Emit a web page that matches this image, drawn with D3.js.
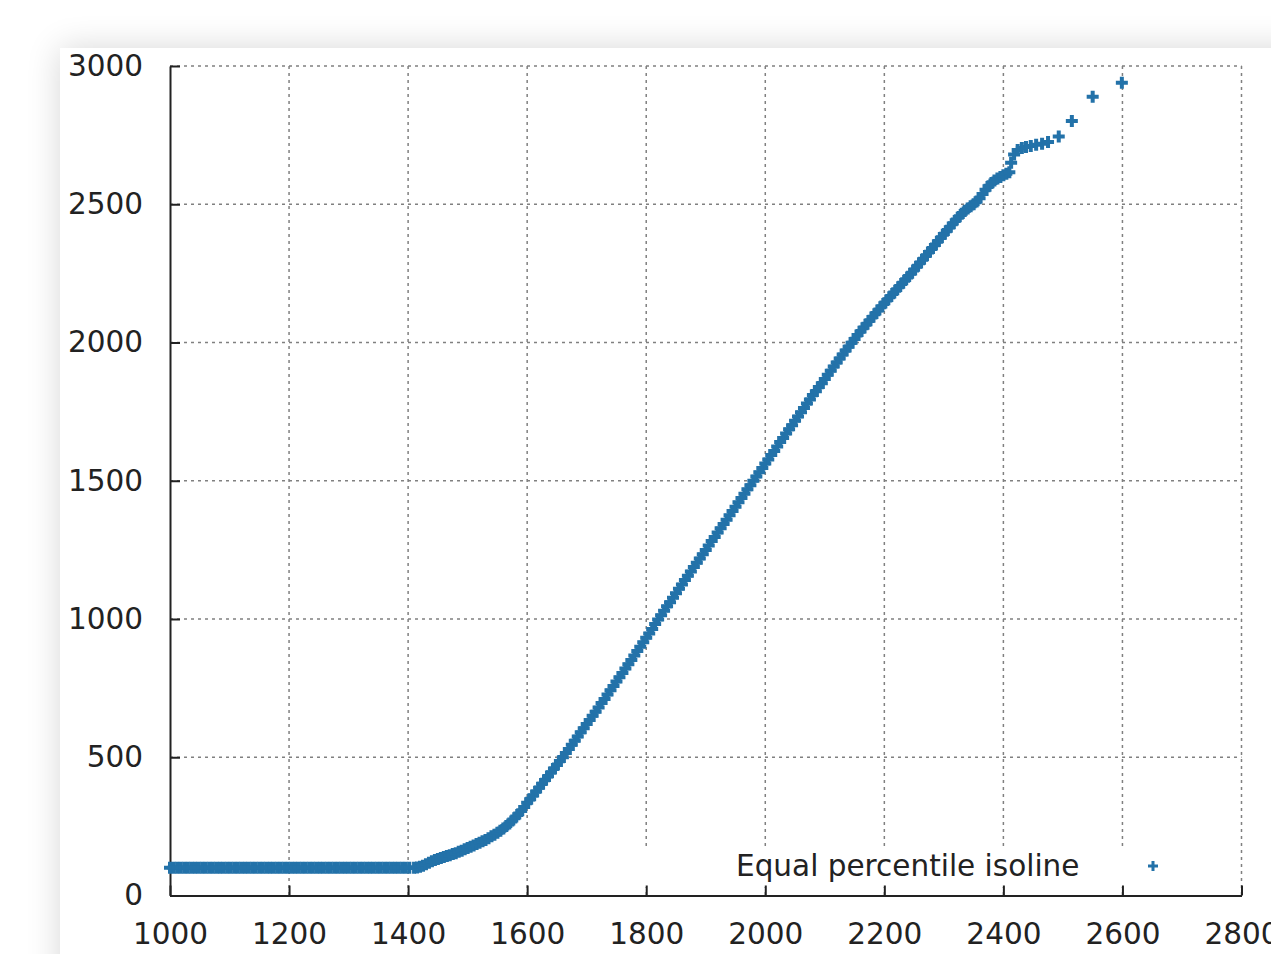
<!DOCTYPE html>
<html>
<head>
<meta charset="utf-8">
<script src="https://cdn.jsdelivr.net/npm/d3@7/dist/d3.min.js"></script>
<style>
  html, body { margin: 0; padding: 0; background: #fff; }
  body { width: 1271px; height: 954px; overflow: hidden; position: relative; }
  #card {
    position: absolute; left: 60px; top: 48px; width: 1300px; height: 1000px;
    background: #fff; box-shadow: 0 0 32px rgba(0, 0, 0, 0.16);
  }
  #chart { position: absolute; left: 0; top: 0; }
</style>
</head>
<body>
<div id="card"></div>
<div id="chart"></div>
<script>
// axis ticks
const xTicks = [1000, 1200, 1400, 1600, 1800, 2000, 2200, 2400, 2600, 2800];
const yTicks = [0, 500, 1000, 1500, 2000, 2500, 3000];
const seriesName = 'Equal percentile isoline';

// equal percentile pairs (x, y)
const isoX = [
  1000, 1006, 1012, 1018, 1024, 1030, 1036, 1042, 1048, 1054,
  1060, 1066, 1072, 1078, 1084, 1090, 1096, 1102, 1108, 1114,
  1120, 1126, 1132, 1138, 1144, 1150, 1156, 1162, 1168, 1174,
  1180, 1186, 1192, 1198, 1204, 1210, 1216, 1222, 1228, 1234,
  1240, 1246, 1252, 1258, 1264, 1270, 1276, 1282, 1288, 1294,
  1300, 1306, 1312, 1318, 1324, 1330, 1336, 1342, 1348, 1354,
  1360, 1366, 1372, 1378, 1384, 1390, 1396, 1402,
  1410, 1415, 1420, 1425, 1430, 1435, 1440, 1445, 1450, 1455,
  1460, 1465, 1470, 1475, 1480, 1485, 1490, 1495, 1500, 1505,
  1510, 1515, 1520, 1525, 1530, 1535, 1540, 1545, 1550, 1555,
  1560, 1565, 1570, 1575, 1580, 1585, 1590, 1595, 1600, 1605,
  1610, 1615, 1620, 1625, 1630, 1635, 1640, 1645, 1650, 1655,
  1660, 1665, 1670, 1675, 1680, 1685, 1690, 1695, 1700, 1705,
  1710, 1715, 1720, 1725, 1730, 1735, 1740, 1745, 1750, 1755,
  1760, 1765, 1770, 1775, 1780, 1785, 1790, 1795, 1800, 1805,
  1810, 1815, 1820, 1825, 1830, 1835, 1840, 1845, 1850, 1855,
  1860, 1865, 1870, 1875, 1880, 1885, 1890, 1895, 1900, 1905,
  1910, 1915, 1920, 1925, 1930, 1935, 1940, 1945, 1950, 1955,
  1960, 1965, 1970, 1975, 1980, 1985, 1990, 1995, 2000, 2005,
  2010, 2015, 2020, 2025, 2030, 2035, 2040, 2045, 2050, 2055,
  2060, 2065, 2070, 2075, 2080, 2085, 2090, 2095, 2100, 2105,
  2110, 2115, 2120, 2125, 2130, 2135, 2140, 2145, 2150, 2155,
  2160, 2165, 2170, 2175, 2180, 2185, 2190, 2195, 2200, 2205,
  2210, 2215, 2220, 2225, 2230, 2235, 2240, 2245, 2250, 2255,
  2260, 2265, 2270, 2275, 2280, 2285, 2290, 2295, 2300, 2305,
  2310, 2315, 2320, 2325, 2330, 2335, 2340, 2345, 2350, 2355,
  2360, 2365, 2370, 2375, 2380, 2385, 2390, 2395, 2400, 2405,
  2410, 2413, 2418, 2424, 2431, 2438, 2446, 2455, 2465, 2475,
  2493, 2515, 2550, 2599
];
const isoY = [
  100, 100, 100, 100, 100, 100, 100, 100, 100, 100,
  100, 100, 100, 100, 100, 100, 100, 100, 100, 100,
  100, 100, 100, 100, 100, 100, 100, 100, 100, 100,
  100, 100, 100, 100, 100, 100, 100, 100, 100, 100,
  100, 100, 100, 100, 100, 100, 100, 100, 100, 100,
  100, 100, 100, 100, 100, 100, 100, 100, 100, 100,
  100, 100, 100, 100, 100, 100, 100, 100,
  100, 101, 104, 108, 113, 118, 124, 128, 132, 136,
  139, 143, 146, 150, 153, 158, 162, 167, 172, 176,
  181, 186, 191, 196, 201, 207, 214, 220, 227, 234,
  242, 251, 260, 271, 282, 294, 306, 320, 335, 348,
  362, 376, 390, 404, 418, 431, 445, 459, 472, 486,
  500, 515, 530, 545, 560, 575, 590, 605, 620, 635,
  650, 665, 680, 696, 711, 727, 742, 758, 774, 789,
  805, 821, 836, 852, 868, 884, 900, 916, 932, 948,
  964, 982, 998, 1014, 1030, 1046, 1061, 1077, 1093, 1109,
  1125, 1141, 1156, 1172, 1188, 1203, 1219, 1234, 1250, 1266,
  1282, 1297, 1313, 1328, 1344, 1359, 1375, 1391, 1406, 1422,
  1438, 1453, 1469, 1484, 1500, 1515, 1531, 1546, 1562, 1577,
  1593, 1608, 1624, 1640, 1655, 1671, 1686, 1701, 1717, 1732,
  1748, 1763, 1779, 1794, 1810, 1824, 1839, 1853, 1868, 1883,
  1898, 1913, 1928, 1942, 1957, 1971, 1985, 1999, 2013, 2027,
  2040, 2053, 2066, 2079, 2092, 2105, 2117, 2130, 2142, 2154,
  2166, 2178, 2190, 2202, 2214, 2226, 2238, 2250, 2263, 2275,
  2288, 2301, 2314, 2327, 2340, 2353, 2366, 2379, 2392, 2404,
  2417, 2430, 2442, 2454, 2466, 2476, 2485, 2493, 2500, 2510,
  2522, 2537, 2552, 2565, 2577, 2586, 2593, 2599, 2605, 2610,
  2616, 2650, 2680, 2696, 2703, 2707, 2711, 2715, 2719, 2725,
  2745, 2801, 2889, 2939
];

const W = 1271, H = 954;
const color = '#2372a9';
const font = '"DejaVu Sans", sans-serif';
const plus = 'M-6,0H6M0,-6V6';

const x = d3.scaleLinear().domain([1000, 2800]).range([170, 1241.5]);
const y = d3.scaleLinear().domain([0, 3000]).range([895.5, 66]);

const svg = d3.select('#chart').append('svg')
  .attr('width', W)
  .attr('height', H);

// dashed grid
const grid = svg.append('g')
  .attr('stroke', '#808080')
  .attr('stroke-width', 1.5)
  .attr('stroke-dasharray', '3,4');

grid.selectAll('line.gx')
  .data(xTicks.slice(1))
  .join('line')
  .attr('class', 'gx')
  .attr('x1', d => x(d)).attr('x2', d => x(d))
  .attr('y1', y(3000)).attr('y2', y(0));

grid.selectAll('line.gy')
  .data(yTicks.slice(1))
  .join('line')
  .attr('class', 'gy')
  .attr('x1', x(1000)).attr('x2', x(2800))
  .attr('y1', d => y(d)).attr('y2', d => y(d));

// opaque key box
svg.append('rect')
  .attr('x', 600).attr('y', 849)
  .attr('width', 580).attr('height', 38)
  .attr('fill', '#fff');

// axes
const xAxis = svg.append('g')
  .attr('transform', `translate(0,${y(0)})`)
  .call(d3.axisBottom(x).tickValues(xTicks).tickFormat(d3.format('d'))
    .tickSize(-10).tickSizeOuter(0).tickPadding(28));

const yAxis = svg.append('g')
  .attr('transform', `translate(${x(1000)},0)`)
  .call(d3.axisLeft(y).tickValues(yTicks).tickFormat(d3.format('d'))
    .tickSize(-10).tickSizeOuter(0).tickPadding(27));

[xAxis, yAxis].forEach(g => {
  g.select('.domain').attr('stroke', '#222').attr('stroke-width', 2);
  g.selectAll('.tick line').attr('stroke', '#222').attr('stroke-width', 2);
  g.selectAll('.tick text')
    .attr('fill', '#222')
    .style('font-family', font)
    .style('font-size', '29.5px');
});

// points
const points = isoX.map((d, i) => [d, isoY[i]]);
svg.append('g')
  .attr('stroke', color)
  .attr('stroke-width', 4)
  .attr('fill', 'none')
  .selectAll('path')
  .data(points)
  .join('path')
  .attr('transform', d => `translate(${x(d[0])},${y(d[1])})`)
  .attr('d', plus);

// key
svg.append('text')
  .attr('x', 736)
  .attr('y', 876)
  .attr('fill', '#222')
  .style('font-family', font)
  .style('font-size', '29.5px')
  .text(seriesName);

svg.append('path')
  .attr('transform', 'translate(1153,866)')
  .attr('d', 'M-5,0H5M0,-5V5')
  .attr('stroke', color)
  .attr('stroke-width', 3)
  .attr('fill', 'none');
</script>
</body>
</html>
